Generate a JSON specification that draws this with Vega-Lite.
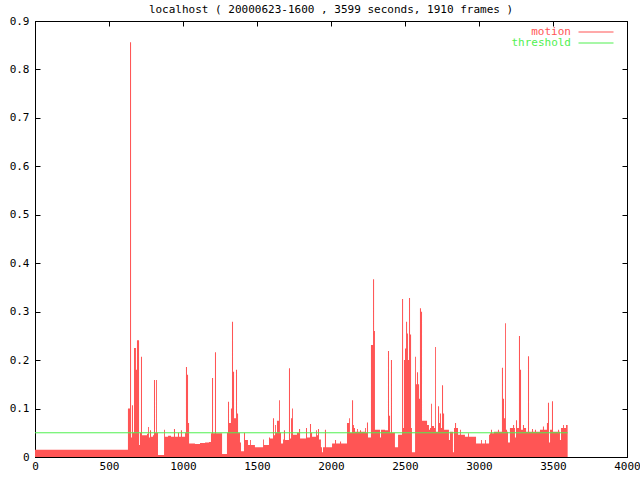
{
  "$schema": "https://vega.github.io/schema/vega-lite/v6.json",
  "width": 592,
  "height": 436,
  "autosize": {"type": "none"},
  "padding": {"left": 35, "top": 21, "right": 13, "bottom": 23},
  "background": "white",
  "title": {"text": "localhost ( 20000623-1600 , 3599 seconds, 1910 frames )", "font": "DejaVu Sans Mono", "fontSize": 11, "fontWeight": "normal", "color": "black", "offset": 0, "anchor": "middle"},
  "config": {
    "view": {"stroke": "black", "strokeWidth": 1},
    "axis": {"grid": false, "domainColor": "black", "tickColor": "black", "tickSize": -5, "labelFont": "DejaVu Sans Mono", "labelFontSize": 11, "labelColor": "black", "title": null, "labelOverlap": false}
  },
  "datasets": {
    "motion": [
      {"t": 0, "value": 0.015}, {"t": 628, "value": 0.10}, {"t": 642, "value": 0.856}, {"t": 649, "value": 0.04}, {"t": 655, "value": 0.107}, {"t": 662, "value": 0.05}, {"t": 669, "value": 0.225}, {"t": 682, "value": 0.18}, {"t": 689, "value": 0.241}, {"t": 703, "value": 0.025}, {"t": 709, "value": 0.05}, {"t": 716, "value": 0.207}, {"t": 723, "value": 0.045}, {"t": 757, "value": 0.048}, {"t": 764, "value": 0.062}, {"t": 770, "value": 0.04}, {"t": 777, "value": 0.055}, {"t": 784, "value": 0.042}, {"t": 797, "value": 0.045}, {"t": 804, "value": 0.159}, {"t": 811, "value": 0.05}, {"t": 818, "value": 0.159}, {"t": 824, "value": 0.05}, {"t": 831, "value": 0.004},
      {"t": 872, "value": 0.056}, {"t": 878, "value": 0.042}, {"t": 899, "value": 0.044}, {"t": 919, "value": 0.042}, {"t": 939, "value": 0.058}, {"t": 946, "value": 0.042}, {"t": 966, "value": 0.05}, {"t": 973, "value": 0.042}, {"t": 986, "value": 0.055}, {"t": 993, "value": 0.042}, {"t": 1014, "value": 0.05}, {"t": 1020, "value": 0.186}, {"t": 1027, "value": 0.17}, {"t": 1034, "value": 0.07}, {"t": 1041, "value": 0.028}, {"t": 1081, "value": 0.027}, {"t": 1115, "value": 0.029}, {"t": 1149, "value": 0.030}, {"t": 1176, "value": 0.031}, {"t": 1189, "value": 0.049}, {"t": 1196, "value": 0.163}, {"t": 1203, "value": 0.049}, {"t": 1216, "value": 0.216}, {"t": 1223, "value": 0.049}, {"t": 1264, "value": 0.006},
      {"t": 1297, "value": 0.05}, {"t": 1304, "value": 0.114}, {"t": 1311, "value": 0.07}, {"t": 1324, "value": 0.10}, {"t": 1331, "value": 0.279}, {"t": 1338, "value": 0.176}, {"t": 1345, "value": 0.08}, {"t": 1358, "value": 0.18}, {"t": 1365, "value": 0.09}, {"t": 1372, "value": 0.05}, {"t": 1385, "value": 0.03}, {"t": 1392, "value": 0.012}, {"t": 1412, "value": 0.05}, {"t": 1419, "value": 0.035}, {"t": 1439, "value": 0.025}, {"t": 1453, "value": 0.035}, {"t": 1459, "value": 0.025}, {"t": 1486, "value": 0.02}, {"t": 1541, "value": 0.036}, {"t": 1547, "value": 0.025}, {"t": 1581, "value": 0.04}, {"t": 1588, "value": 0.038}, {"t": 1608, "value": 0.08}, {"t": 1615, "value": 0.045}, {"t": 1622, "value": 0.066}, {"t": 1628, "value": 0.05}, {"t": 1635, "value": 0.075}, {"t": 1649, "value": 0.117}, {"t": 1655, "value": 0.05}, {"t": 1662, "value": 0.028}, {"t": 1676, "value": 0.036}, {"t": 1682, "value": 0.055}, {"t": 1689, "value": 0.035}, {"t": 1716, "value": 0.183}, {"t": 1723, "value": 0.038}, {"t": 1730, "value": 0.08}, {"t": 1737, "value": 0.10}, {"t": 1743, "value": 0.046}, {"t": 1770, "value": 0.05}, {"t": 1784, "value": 0.058}, {"t": 1791, "value": 0.038},
      {"t": 1831, "value": 0.06}, {"t": 1838, "value": 0.04}, {"t": 1858, "value": 0.068}, {"t": 1865, "value": 0.05}, {"t": 1872, "value": 0.042}, {"t": 1899, "value": 0.055}, {"t": 1905, "value": 0.045}, {"t": 1912, "value": 0.058}, {"t": 1919, "value": 0.036}, {"t": 1932, "value": 0.02}, {"t": 1939, "value": 0.01}, {"t": 1946, "value": 0.02}, {"t": 1959, "value": 0.056}, {"t": 1966, "value": 0.02}, {"t": 2007, "value": 0.028}, {"t": 2027, "value": 0.035}, {"t": 2034, "value": 0.028}, {"t": 2061, "value": 0.032}, {"t": 2068, "value": 0.028}, {"t": 2108, "value": 0.07}, {"t": 2122, "value": 0.08}, {"t": 2128, "value": 0.05}, {"t": 2142, "value": 0.117}, {"t": 2149, "value": 0.066}, {"t": 2155, "value": 0.06}, {"t": 2162, "value": 0.052}, {"t": 2176, "value": 0.058}, {"t": 2182, "value": 0.052}, {"t": 2196, "value": 0.055}, {"t": 2203, "value": 0.052}, {"t": 2230, "value": 0.06}, {"t": 2236, "value": 0.05}, {"t": 2243, "value": 0.071}, {"t": 2250, "value": 0.04}, {"t": 2270, "value": 0.231}, {"t": 2284, "value": 0.367}, {"t": 2291, "value": 0.26}, {"t": 2297, "value": 0.056}, {"t": 2331, "value": 0.04}, {"t": 2338, "value": 0.056}, {"t": 2365, "value": 0.055}, {"t": 2385, "value": 0.219}, {"t": 2392, "value": 0.085}, {"t": 2399, "value": 0.05}, {"t": 2405, "value": 0.2}, {"t": 2412, "value": 0.05}, {"t": 2432, "value": 0.02}, {"t": 2453, "value": 0.046},
      {"t": 2480, "value": 0.326}, {"t": 2487, "value": 0.06}, {"t": 2493, "value": 0.2}, {"t": 2500, "value": 0.224}, {"t": 2507, "value": 0.279}, {"t": 2514, "value": 0.255}, {"t": 2520, "value": 0.2}, {"t": 2527, "value": 0.328}, {"t": 2534, "value": 0.253}, {"t": 2541, "value": 0.06}, {"t": 2547, "value": 0.01}, {"t": 2568, "value": 0.207}, {"t": 2574, "value": 0.15}, {"t": 2581, "value": 0.175}, {"t": 2588, "value": 0.15}, {"t": 2595, "value": 0.12}, {"t": 2601, "value": 0.307}, {"t": 2608, "value": 0.30}, {"t": 2615, "value": 0.075}, {"t": 2649, "value": 0.066}, {"t": 2662, "value": 0.056}, {"t": 2669, "value": 0.06}, {"t": 2676, "value": 0.11}, {"t": 2682, "value": 0.064}, {"t": 2696, "value": 0.06}, {"t": 2703, "value": 0.227}, {"t": 2709, "value": 0.052}, {"t": 2723, "value": 0.105}, {"t": 2730, "value": 0.07}, {"t": 2736, "value": 0.09}, {"t": 2743, "value": 0.06}, {"t": 2750, "value": 0.148}, {"t": 2757, "value": 0.09}, {"t": 2764, "value": 0.056}, {"t": 2797, "value": 0.035}, {"t": 2804, "value": 0.052}, {"t": 2824, "value": 0.01}, {"t": 2831, "value": 0.06}, {"t": 2838, "value": 0.07}, {"t": 2845, "value": 0.06}, {"t": 2858, "value": 0.046}, {"t": 2872, "value": 0.056}, {"t": 2878, "value": 0.046}, {"t": 2905, "value": 0.042}, {"t": 2926, "value": 0.049}, {"t": 2932, "value": 0.042}, {"t": 2980, "value": 0.028}, {"t": 3014, "value": 0.035}, {"t": 3020, "value": 0.028}, {"t": 3041, "value": 0.035}, {"t": 3047, "value": 0.028},
      {"t": 3068, "value": 0.046}, {"t": 3074, "value": 0.049}, {"t": 3081, "value": 0.056}, {"t": 3088, "value": 0.049}, {"t": 3101, "value": 0.052}, {"t": 3122, "value": 0.052}, {"t": 3128, "value": 0.056}, {"t": 3135, "value": 0.052}, {"t": 3155, "value": 0.184}, {"t": 3162, "value": 0.12}, {"t": 3169, "value": 0.08}, {"t": 3176, "value": 0.276}, {"t": 3182, "value": 0.056}, {"t": 3189, "value": 0.052}, {"t": 3196, "value": 0.03}, {"t": 3209, "value": 0.06}, {"t": 3230, "value": 0.066}, {"t": 3237, "value": 0.06}, {"t": 3243, "value": 0.04}, {"t": 3250, "value": 0.076}, {"t": 3257, "value": 0.06}, {"t": 3270, "value": 0.25}, {"t": 3277, "value": 0.18}, {"t": 3284, "value": 0.056}, {"t": 3297, "value": 0.066}, {"t": 3304, "value": 0.06}, {"t": 3318, "value": 0.052}, {"t": 3331, "value": 0.208}, {"t": 3338, "value": 0.052}, {"t": 3358, "value": 0.058}, {"t": 3365, "value": 0.052}, {"t": 3378, "value": 0.056}, {"t": 3385, "value": 0.052}, {"t": 3412, "value": 0.056}, {"t": 3432, "value": 0.063}, {"t": 3439, "value": 0.056}, {"t": 3459, "value": 0.07}, {"t": 3466, "value": 0.112}, {"t": 3473, "value": 0.03}, {"t": 3480, "value": 0.056}, {"t": 3493, "value": 0.115}, {"t": 3500, "value": 0.052}, {"t": 3534, "value": 0.056}, {"t": 3541, "value": 0.052}, {"t": 3547, "value": 0.035}, {"t": 3554, "value": 0.06}, {"t": 3568, "value": 0.066}, {"t": 3574, "value": 0.06}, {"t": 3588, "value": 0.066}, {"t": 3599, "value": 0.066}
    ],
    "threshold": [
      {"t": 0, "value": 0.05}, {"t": 3599, "value": 0.05}
    ]
  },
  "layer": [
    {
      "data": {"name": "motion"},
      "mark": {"type": "area", "interpolate": "step-after"},
      "encoding": {
        "x": {"field": "t", "type": "quantitative", "scale": {"domain": [0, 4000], "nice": false, "zero": false}, "axis": {"values": [0, 500, 1000, 1500, 2000, 2500, 3000, 3500, 4000], "format": "d", "labelFlush": false, "labelPadding": 8}},
        "y": {"field": "value", "type": "quantitative", "scale": {"domain": [0, 0.9], "nice": false}, "axis": {"values": [0, 0.1, 0.2, 0.3, 0.4, 0.5, 0.6, 0.7, 0.8, 0.9], "format": ".1~f", "labelPadding": 11}},
        "color": {
          "datum": "motion",
          "type": "nominal",
          "scale": {"domain": ["motion", "threshold"], "range": ["#ff5555", "#50f050"]},
          "legend": {
            "title": null,
            "orient": "none",
            "legendX": 536,
            "legendY": 5,
            "padding": 0,
            "rowPadding": 0,
            "symbolType": "M-3.5,0H3.5",
            "symbolSize": 100,
            "symbolStrokeWidth": 1,
            "symbolOpacity": 1,
            "labelFont": "DejaVu Sans Mono",
            "labelFontSize": 11,
            "encode": {
              "labels": {"update": {"x": {"value": 0}, "align": {"value": "right"}, "fill": {"scale": "color", "field": "value"}}},
              "symbols": {"update": {"x": {"value": 25}, "stroke": {"scale": "color", "field": "value"}, "fill": {"value": "transparent"}, "strokeWidth": {"value": 1.2}, "opacity": {"value": 1}, "strokeOpacity": {"value": 1}}}
            }
          }
        }
      }
    },
    {
      "data": {"name": "threshold"},
      "mark": {"type": "line", "strokeWidth": 1},
      "encoding": {
        "x": {"field": "t", "type": "quantitative", "axis": {"orient": "top", "labels": false, "values": [0, 500, 1000, 1500, 2000, 2500, 3000, 3500, 4000]}},
        "y": {"field": "value", "type": "quantitative", "axis": {"orient": "right", "labels": false, "values": [0, 0.1, 0.2, 0.3, 0.4, 0.5, 0.6, 0.7, 0.8, 0.9]}},
        "color": {"datum": "threshold", "type": "nominal"}
      }
    }
  ],
  "resolve": {"axis": {"x": "independent", "y": "independent"}}
}
